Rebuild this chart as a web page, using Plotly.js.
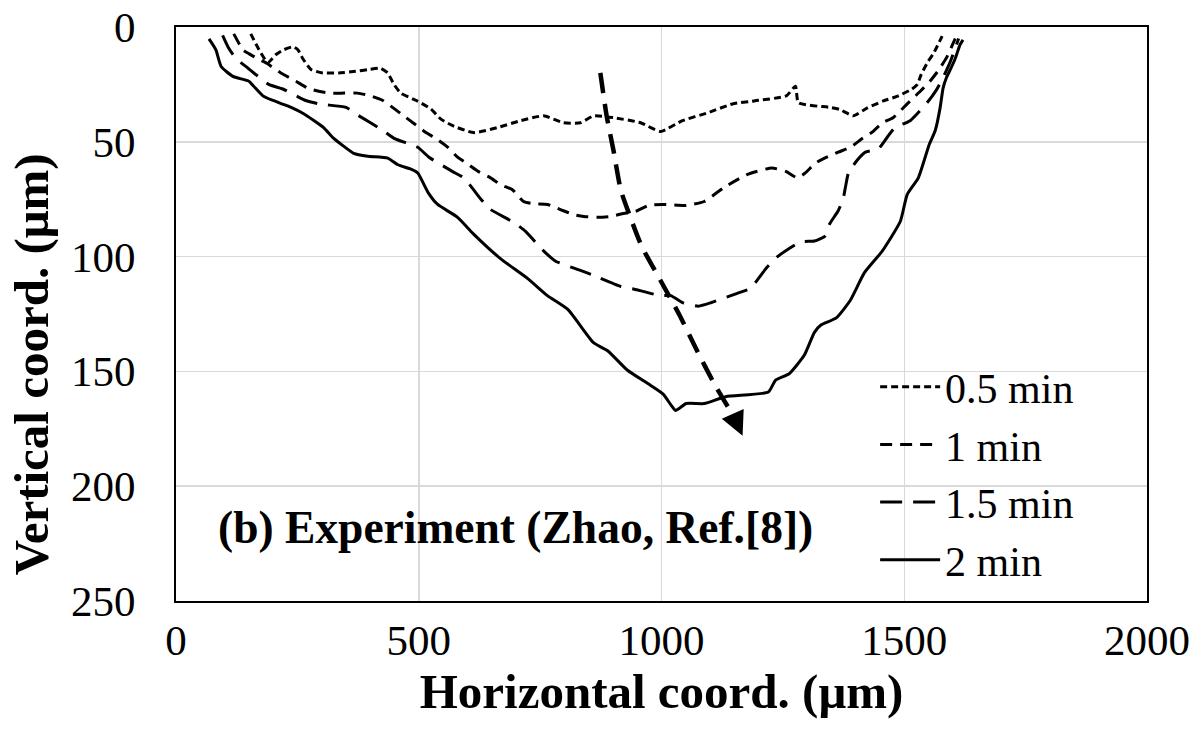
<!DOCTYPE html>
<html>
<head>
<meta charset="utf-8">
<script src="https://cdn.plot.ly/plotly-3.0.1.min.js"></script>
<style>html,body{margin:0;padding:0;background:#fff;}#chart{width:1203px;height:738px;}</style>
</head>
<body>
<div id="chart"></div>
<script>
// Series names
var seriesNames = ["0.5 min", "1 min", "1.5 min", "2 min"];

// 0.5 min profile (horizontal µm, vertical µm)
var x05 = [154,171,189,206,222,241,251,261,278,302,335,370,397,422,436,449,463,495,525,545,570,613,662,710,757,798,833,860,901,957,998,1043,1095,1146,1191,1257,1276,1282,1346,1368,1395,1424,1457,1488,1516,1527,1535,1549,1560,1578];
var y05 = [3,9.9,15.5,12,9.9,8.6,9.9,13.7,18.5,20,20,19.3,18.5,18,20,25,28.8,32,35.7,40,43,46,43.8,40.8,38.7,41.7,41.7,38.7,39.5,41.7,45.5,40.8,37.4,33.5,32.2,30,25.8,33,35,36,38.7,35.2,32.2,30,27,25,20.6,15,11.6,4];

// 1 min profile
var x1 = [119,138,150,170,189,195,216,247,271,294,319,346,374,401,426,446,469,490,514,535,560,580,603,623,648,669,693,716,737,765,792,817,840,870,895,922,947,973,1004,1051,1088,1128,1175,1227,1257,1280,1296,1317,1337,1364,1389,1414,1434,1455,1477,1506,1533,1553,1570,1588,1605];
var y1 = [3,10,11.6,14,16,17,20,23.6,26.6,28,28.8,28.8,28.8,30,32,35,38.7,42,45.8,48.5,52.4,56.7,60,63,65.7,68.7,70.9,76,77,77.3,79.5,81.6,82.5,82.9,82.5,81.2,80.3,77.7,77.3,77.7,76,70,64.4,61.4,63,65.7,63.6,59.3,57,54.5,52.4,48.5,45.8,41.7,39.5,33.5,28,23.6,19,13,5];

// 1.5 min profile
var x15 = [96,109,123,148,191,220,267,298,350,377,426,449,498,521,570,593,628,648,695,720,757,782,833,858,916,940,998,1019,1043,1076,1103,1156,1183,1216,1239,1286,1315,1337,1346,1364,1374,1379,1385,1403,1420,1447,1465,1481,1512,1547,1566,1580,1595,1612];
var y15 = [3.6,9.4,13.6,17.9,25,27,32,33.6,35,38.7,45,48.5,52.4,56.7,63,65.7,75,79.5,85,89,97.5,102,106,108,113,114,117,117,120,121.6,120,116,113.8,105,100,93.6,93.2,91,85.9,80,75,69.6,63.6,58,54.5,53,48,43.8,40.8,33,27.5,22,15,5];

// 2 min profile
var x2 = [68,82,93,117,150,160,179,200,230,263,304,325,366,395,436,457,484,498,519,539,580,613,669,724,765,807,860,889,930,977,1004,1019,1029,1051,1088,1132,1220,1235,1263,1294,1315,1329,1360,1389,1418,1455,1492,1506,1529,1551,1564,1574,1580,1587,1595,1605,1615,1621];
var y2 = [5.2,9.9,17.2,21.5,23.6,25.8,30,32,34.4,37.8,43.8,48.5,55,56.3,57.1,60,61.9,63.6,72,77.3,82.9,90.2,101,109.5,117,123,137.5,141,149.5,156,160,164.5,167,164,164,161,159,153.8,151,143,133,129.7,126.7,119,107,97.5,84.6,73,65.7,51.5,45,35,26.6,22,18.5,13.7,7.7,5.6];

// Trend arrow path (data coordinates)
var arrowX = [874,887,901,916,930,959,998,1037,1072,1109,1150];
var arrowY = [20,38.7,53.7,70.9,79.5,95.4,110.4,125.4,140.5,155.5,170];
var arrowTip = [1167, 178];

// Axis ticks
var xTicks = [0,500,1000,1500,2000];
var yTicks = [0,50,100,150,200,250];

var panelLabel = "(b) Experiment (Zhao, Ref.[8])";
var panelPos = [700, 218];
var yTitle = "Vertical coord. (μm)";
var xTitle = "Horizontal coord. (μm)";

var FONT = '"Liberation Serif","Times New Roman",serif';
var dashes = ["7px,4px", "12px,8px", "22px,11px", "solid"];
var xs = [x05, x1, x15, x2], ys = [y05, y1, y15, y2];

var traces = seriesNames.map(function(n, i){
  return {x: xs[i], y: ys[i], name: n, type: 'scatter', mode: 'lines',
    line: {color: '#000', width: 3, dash: dashes[i], shape: 'spline', smoothing: 0.5}};
});
traces.push({x: arrowX, y: arrowY, type: 'scatter', mode: 'lines', showlegend: false,
  hoverinfo: 'skip', line: {color: '#000', width: 4.5, dash: '20px,11px', shape: 'spline', smoothing: 0.6}});

var layout = {
  width: 1203, height: 738,
  margin: {l: 176, r: 56, t: 27, b: 137},
  paper_bgcolor: '#fff', plot_bgcolor: '#fff',
  font: {family: FONT, color: '#000', size: 42},
  showlegend: true,
  legend: {x: 0.72, y: 0.432, xanchor: 'left', yanchor: 'top', bgcolor: 'rgba(0,0,0,0)',
    font: {family: FONT, size: 42, color: '#000'}, itemwidth: 60, tracegroupgap: 0},
  xaxis: {range: [0, 2000], tickvals: xTicks, ticktext: xTicks.map(String),
    showgrid: true, gridcolor: '#d9d9d9', gridwidth: 1.5, zeroline: false,
    showline: true, linecolor: '#000', linewidth: 2, mirror: true, ticks: '',
    ticklabelstandoff: 0, ticklabeloverflow: 'allow',
    tickfont: {family: FONT, size: 43, color: '#000'},
    title: {text: '<b>' + xTitle + '</b>', font: {family: FONT, size: 49, color: '#000'}, standoff: 0}},
  yaxis: {range: [250, 0], tickvals: yTicks, ticktext: yTicks.map(String),
    showgrid: true, gridcolor: '#d9d9d9', gridwidth: 1.5, zeroline: false,
    showline: true, linecolor: '#000', linewidth: 2, mirror: true, ticks: '',
    ticklabelstandoff: 30, ticklabeloverflow: 'allow',
    tickfont: {family: FONT, size: 43, color: '#000'}},
  annotations: [
    {x: panelPos[0], y: panelPos[1], xref: 'x', yref: 'y', text: '<b>' + panelLabel + '</b>',
      showarrow: false, font: {family: FONT, size: 45.5, color: '#000'}},
    {x: -0.148, y: 0.413, xref: 'paper', yref: 'paper', text: '<b>' + yTitle + '</b>',
      textangle: -90, showarrow: false, xanchor: 'center', yanchor: 'middle',
      font: {family: FONT, size: 49, color: '#000'}},
    {x: arrowTip[0], y: arrowTip[1], xref: 'x', yref: 'y',
      ax: arrowX[arrowX.length-1], ay: arrowY[arrowY.length-1], axref: 'x', ayref: 'y',
      text: '', showarrow: true, arrowhead: 2, arrowsize: 1.2, arrowwidth: 4, arrowcolor: '#000'}
  ]
};

Plotly.newPlot('chart', traces, layout, {displayModeBar: false, staticPlot: true});
</script>
</body>
</html>
